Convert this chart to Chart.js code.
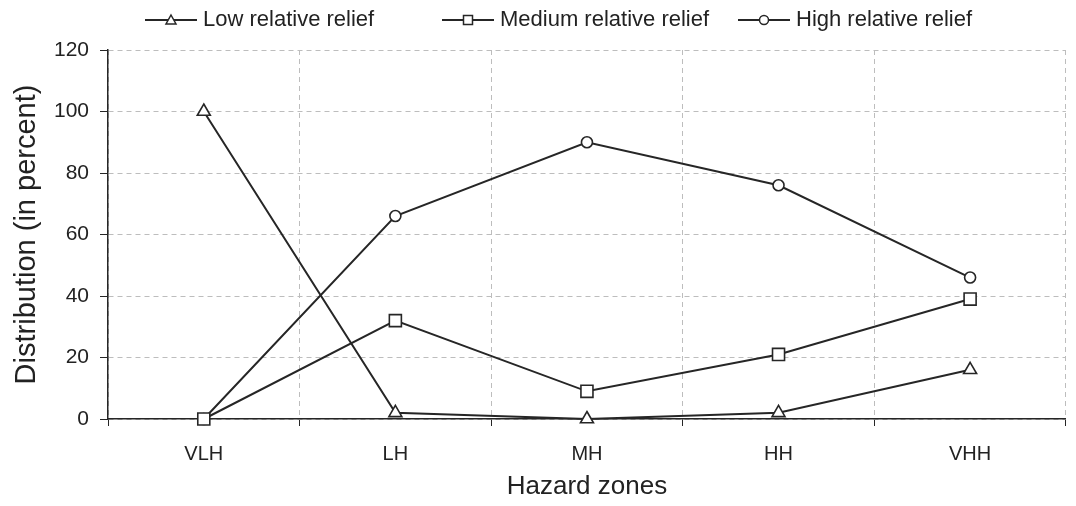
<!DOCTYPE html>
<html>
<head>
<meta charset="utf-8">
<script src="https://cdn.jsdelivr.net/npm/chart.js@4.4.0/dist/chart.umd.min.js"></script>
<style>
html, body { margin: 0; padding: 0; background: #fff; }
</style>
</head>
<body>
<canvas id="myChart" width="1076" height="506"></canvas>
<script>
var zones = ['VLH', 'LH', 'MH', 'HH', 'VHH'];
var lowRelief = [100, 2, 0, 2, 16];
var mediumRelief = [0, 32, 9, 21, 39];
var highRelief = [0, 66, 90, 76, 46];
var yTicks = [0, 20, 40, 60, 80, 100, 120];

var seriesNames = ['Low relative relief', 'Medium relative relief', 'High relative relief'];
var ink = '#262626';
var FONT = "'Liberation Sans', Arial, sans-serif";

function drawMarker(ctx, style, x, y) {
    ctx.save();
    ctx.fillStyle = '#fff';
    ctx.strokeStyle = ink;
    ctx.lineWidth = 1.5;
    ctx.beginPath();
    if (style === 'triangle') {
        ctx.moveTo(x, y - 5);
        ctx.lineTo(x + 5, y + 4);
        ctx.lineTo(x - 5, y + 4);
        ctx.closePath();
    } else if (style === 'rect') {
        ctx.rect(x - 4.5, y - 4.5, 9, 9);
    } else {
        ctx.arc(x, y, 4.5, 0, Math.PI * 2);
    }
    ctx.fill();
    ctx.stroke();
    ctx.restore();
}

// legend drawn as line-marker-line followed by the label, like the original
var lineLegend = {
    id: 'lineLegend',
    afterDraw: function (chart) {
        var ctx = chart.ctx;
        var starts = [145, 442, 738];
        var styles = ['triangle', 'rect', 'circle'];
        var y = 20;
        ctx.save();
        ctx.font = '22px ' + FONT;
        ctx.textBaseline = 'middle';
        ctx.fillStyle = '#222';
        for (var i = 0; i < 3; i++) {
            var x0 = starts[i];
            ctx.strokeStyle = ink;
            ctx.lineWidth = 1.8;
            ctx.beginPath();
            ctx.moveTo(x0, y);
            ctx.lineTo(x0 + 52, y);
            ctx.stroke();
            drawMarker(ctx, styles[i], x0 + 26, y);
            ctx.fillText(seriesNames[i], x0 + 58, y);
        }
        ctx.restore();
    }
};

var ctx = document.getElementById('myChart').getContext('2d');
var myChart = new Chart(ctx, {
    type: 'line',
    data: {
        labels: zones,
        datasets: [{
            label: seriesNames[0],
            data: lowRelief,
            pointStyle: 'triangle',
            pointRadius: 7.5
        }, {
            label: seriesNames[1],
            data: mediumRelief,
            pointStyle: 'rect',
            pointRadius: 8.5
        }, {
            label: seriesNames[2],
            data: highRelief,
            pointStyle: 'circle',
            pointRadius: 5.5
        }]
    },
    options: {
        responsive: false,
        animation: false,
        devicePixelRatio: 1,
        layout: {
            padding: { top: 50, right: 4, left: 0, bottom: 0 }
        },
        elements: {
            line: { borderColor: ink, borderWidth: 2, tension: 0, fill: false },
            point: { backgroundColor: '#fff', borderColor: ink, borderWidth: 1.6, hoverRadius: 6 }
        },
        datasets: {
            line: { clip: false }
        },
        plugins: {
            legend: { display: false },
            tooltip: { enabled: false }
        },
        scales: {
            x: {
                type: 'category',
                offset: true,
                grid: {
                    offset: true,
                    color: '#bdbdbd',
                    lineWidth: 1,
                    tickColor: ink,
                    tickLength: 7
                },
                border: { color: ink, width: 1.5, dash: [5, 4] },
                ticks: {
                    color: '#222',
                    font: { family: FONT, size: 20 },
                    padding: 16,
                    maxRotation: 0
                },
                title: {
                    display: true,
                    text: 'Hazard zones',
                    color: '#222',
                    font: { family: FONT, size: 26 },
                    padding: { top: 2, bottom: 4 }
                },
                afterFit: function (scale) {
                    scale.height = 87;
                    scale.paddingRight = 0;
                    scale.paddingLeft = 0;
                }
            },
            y: {
                min: 0,
                max: 120,
                afterBuildTicks: function (scale) {
                    scale.ticks = yTicks.map(function (v) { return { value: v }; });
                },
                grid: {
                    color: '#bdbdbd',
                    lineWidth: 1,
                    tickColor: ink,
                    tickLength: 8
                },
                border: { color: ink, width: 1.5, dash: [5, 4] },
                ticks: {
                    color: '#222',
                    font: { family: FONT, size: 21 },
                    padding: 11
                },
                title: {
                    display: true,
                    text: 'Distribution (in percent)',
                    color: '#222',
                    font: { family: FONT, size: 29 },
                    padding: { top: 10, bottom: 0 }
                },
                afterFit: function (scale) { scale.width = 108; }
            }
        }
    },
    plugins: [lineLegend]
});
</script>
</body>
</html>
